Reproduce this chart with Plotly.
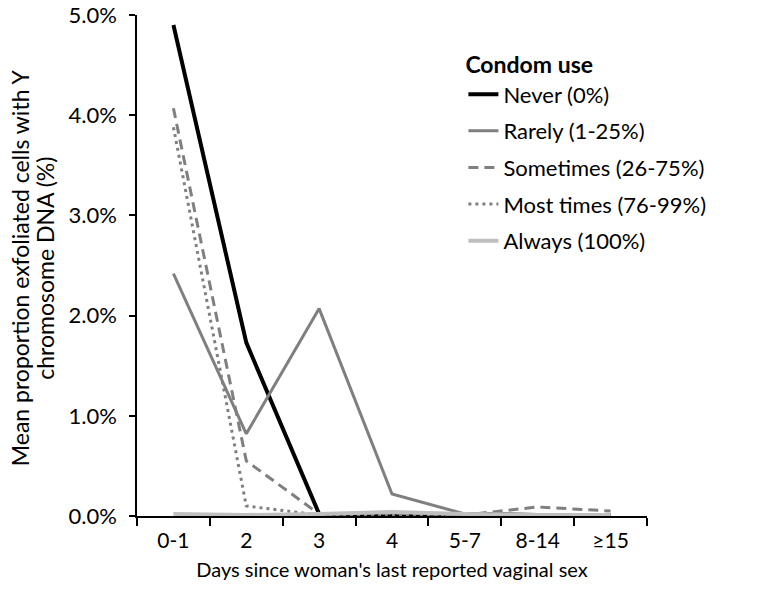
import plotly.graph_objects as go

categories = ["0-1", "2", "3", "4", "5-7", "8-14", "≥15"]
never = [4.90, 1.73, 0.02, 0.01, 0.02, 0.01, 0.01]
rarely = [2.42, 0.82, 2.07, 0.22, 0.02, 0.01, 0.01]
sometimes = [4.07, 0.55, 0.02, 0.03, 0.01, 0.09, 0.05]
most_times = [3.88, 0.10, 0.01, 0.01, 0.01, 0.01, 0.01]
always = [0.02, 0.01, 0.02, 0.04, 0.02, 0.01, 0.01]
y_title_lines = ["Mean proportion exfoliated cells with Y", "chromosome DNA (%)"]

series = [
    ("Never (0%)", never, "#000000", 4, "solid"),
    ("Rarely (1-25%)", rarely, "#7f7f7f", 3, "solid"),
    ("Sometimes (26-75%)", sometimes, "#7f7f7f", 3, "10px,6px"),
    ("Most times (76-99%)", most_times, "#7f7f7f", 3, "3px,4px"),
    ("Always (100%)", always, "#bfbfbf", 4, "solid"),
]

FONT = "Lato"
fig = go.Figure()
for i, (name, vals, color, w, dash) in enumerate(series):
    fig.add_trace(go.Scatter(
        x=categories, y=vals, name=name, mode="lines",
        line=dict(color=color, width=w, dash=dash),
        legendgroup=f"g{i}",
    ))

# two-line y-axis title (tighter line spacing than plotly's default)
for k, (txt, xpos) in enumerate(zip(y_title_lines, [-0.229, -0.181])):
    fig.add_annotation(
        text=txt, xref="paper", yref="paper", x=xpos, y=0.495,
        xanchor="center", yanchor="middle", textangle=-90, showarrow=False,
        font=dict(family=FONT, size=23, color="#000000"),
    )

fig.update_layout(
    width=782, height=602,
    paper_bgcolor="white", plot_bgcolor="white",
    margin=dict(l=137, r=135, t=15, b=86, autoexpand=False),
    font=dict(family=FONT, size=22, color="#000000"),
    showlegend=True,
    legend=dict(
        x=0.64, y=0.943, xanchor="left", yanchor="top",
        title=dict(text="<b>Condom use</b>", font=dict(size=23)),
        font=dict(size=22), traceorder="grouped", tracegroupgap=5,
        bgcolor="rgba(0,0,0,0)", itemwidth=30,
    ),
    xaxis=dict(
        type="category", range=[-0.5, 6.5], automargin=False,
        showline=True, linecolor="black", linewidth=1.5,
        ticks="outside", tickson="boundaries", ticklen=8, tickcolor="black", tickwidth=1.5,
        ticklabelstandoff=5,
        showgrid=False, zeroline=False,
        title=dict(text="Days since woman's last reported vaginal sex", standoff=12,
                   font=dict(size=20)),
        tickfont=dict(size=21),
    ),
    yaxis=dict(
        range=[0, 5], dtick=1, tickformat=".1f", ticksuffix="%", automargin=False,
        showline=True, linecolor="black", linewidth=1.5,
        ticks="outside", ticklen=6, tickcolor="black", tickwidth=1.5,
        ticklabelstandoff=8, ticklabeloverflow="allow",
        showgrid=False, zeroline=False,
        tickfont=dict(size=22),
    ),
)

fig.write_html("out.html", post_script="document.body.style.margin='0';",
               config={"displayModeBar": False})
